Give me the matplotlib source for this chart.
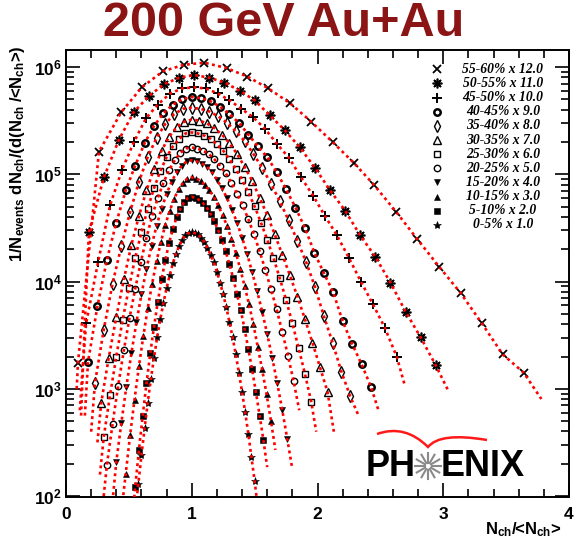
import numpy as np
import matplotlib
matplotlib.use("Agg")
import matplotlib.pyplot as plt
from matplotlib.lines import Line2D
from matplotlib.path import Path
from matplotlib.patches import PathPatch
from matplotlib.ticker import FixedLocator, MultipleLocator, LogLocator, NullFormatter, FuncFormatter

plt.rcParams["font.family"] = ["Liberation Sans", "DejaVu Sans"]
plt.rcParams["mathtext.fontset"] = "custom"
plt.rcParams["mathtext.rm"] = "Liberation Sans:bold"
plt.rcParams["mathtext.it"] = "Liberation Sans:bold"
plt.rcParams["mathtext.bf"] = "Liberation Sans:bold"

# centrality classes and the factor each distribution is scaled by
classes = ["0-5%", "5-10%", "10-15%", "15-20%", "20-25%", "25-30%",
           "30-35%", "35-40%", "40-45%", "45-50%", "50-55%", "55-60%"]
scales = [1.0, 2.0, 3.0, 4.0, 5.0, 6.0, 7.0, 8.0, 9.0, 10.0, 11.0, 12.0]

# measured points: x = Nch/<Nch>, lg = log10(scaled yield)
x_00_05 = [0.575, 0.60, 0.625, 0.65, 0.675, 0.70, 0.725, 0.75, 0.775, 0.80, 0.825, 0.85,
           0.875, 0.90, 0.925, 0.95, 0.975, 1.00, 1.025, 1.05, 1.075, 1.10, 1.125, 1.15,
           1.175, 1.20, 1.225, 1.25, 1.275, 1.30, 1.325, 1.35, 1.375, 1.40, 1.425, 1.45,
           1.475, 1.50]
lg_00_05 = [2.11, 2.38, 2.63, 2.87, 3.09, 3.29, 3.48, 3.65, 3.80, 3.94, 4.06, 4.17,
            4.26, 4.33, 4.39, 4.43, 4.45, 4.46, 4.45, 4.44, 4.41, 4.37, 4.31, 4.25,
            4.18, 4.09, 3.99, 3.88, 3.76, 3.62, 3.48, 3.32, 3.15, 2.97, 2.78, 2.58,
            2.36, 2.14]

x_05_10 = [0.55, 0.58, 0.61, 0.64, 0.67, 0.70, 0.73, 0.76, 0.79, 0.82, 0.85, 0.88, 0.91,
           0.94, 0.97, 1.00, 1.03, 1.06, 1.09, 1.12, 1.15, 1.18, 1.21, 1.24, 1.27, 1.30,
           1.33, 1.36, 1.39, 1.42, 1.45, 1.48, 1.51, 1.54, 1.57]
lg_05_10 = [2.08, 2.43, 2.75, 3.05, 3.33, 3.58, 3.81, 4.02, 4.20, 4.36, 4.49, 4.60, 4.68,
            4.74, 4.78, 4.79, 4.78, 4.76, 4.73, 4.69, 4.63, 4.56, 4.48, 4.39, 4.28, 4.16,
            4.03, 3.88, 3.73, 3.56, 3.37, 3.18, 2.97, 2.75, 2.52]

x_10_15 = [0.475, 0.51, 0.545, 0.58, 0.615, 0.65, 0.685, 0.72, 0.755, 0.79, 0.825, 0.86,
           0.895, 0.93, 0.965, 1.00, 1.035, 1.07, 1.105, 1.14, 1.175, 1.21, 1.245, 1.28,
           1.315, 1.35, 1.385, 1.42, 1.455, 1.49, 1.525, 1.56, 1.595, 1.63]
lg_10_15 = [2.21, 2.57, 2.90, 3.21, 3.49, 3.75, 3.98, 4.19, 4.37, 4.53, 4.66, 4.77,
            4.86, 4.92, 4.96, 4.97, 4.96, 4.94, 4.90, 4.85, 4.79, 4.71, 4.62, 4.52,
            4.40, 4.27, 4.12, 3.96, 3.79, 3.60, 3.39, 3.18, 2.95, 2.70]

x_15_20 = [0.40, 0.44, 0.48, 0.52, 0.56, 0.60, 0.64, 0.68, 0.72, 0.76, 0.80, 0.84, 0.88,
           0.92, 0.96, 1.00, 1.04, 1.08, 1.12, 1.16, 1.20, 1.24, 1.28, 1.32, 1.36, 1.40,
           1.44, 1.48, 1.52, 1.56, 1.60, 1.64, 1.68, 1.72, 1.76]
lg_15_20 = [2.32, 2.68, 3.02, 3.33, 3.62, 3.88, 4.12, 4.33, 4.52, 4.68, 4.82, 4.93, 5.02,
            5.08, 5.12, 5.13, 5.12, 5.10, 5.07, 5.02, 4.95, 4.87, 4.78, 4.67, 4.55, 4.41,
            4.26, 4.09, 3.91, 3.72, 3.51, 3.29, 3.05, 2.80, 2.53]

x_20_25 = [0.325, 0.37, 0.415, 0.46, 0.505, 0.55, 0.595, 0.64, 0.685, 0.73, 0.775, 0.82,
           0.865, 0.91, 0.955, 1.00, 1.045, 1.09, 1.135, 1.18, 1.225, 1.27, 1.315, 1.36,
           1.405, 1.45, 1.495, 1.54, 1.585, 1.63, 1.675, 1.72, 1.765, 1.81]
lg_20_25 = [2.29, 2.67, 3.03, 3.36, 3.66, 3.93, 4.18, 4.41, 4.61, 4.78, 4.92, 5.04,
            5.13, 5.20, 5.24, 5.25, 5.24, 5.22, 5.19, 5.14, 5.08, 5.01, 4.92, 4.82,
            4.71, 4.58, 4.44, 4.28, 4.11, 3.93, 3.74, 3.53, 3.31, 3.07]

x_25_30 = [0.30, 0.35, 0.40, 0.45, 0.50, 0.55, 0.60, 0.65, 0.70, 0.75, 0.80, 0.85, 0.90,
           0.95, 1.00, 1.05, 1.10, 1.15, 1.20, 1.25, 1.30, 1.35, 1.40, 1.45, 1.50, 1.55,
           1.60, 1.65, 1.70, 1.75, 1.80, 1.85, 1.90, 1.95]
lg_25_30 = [2.55, 2.94, 3.30, 3.64, 3.94, 4.22, 4.46, 4.68, 4.87, 5.03, 5.16, 5.26, 5.33,
            5.38, 5.39, 5.38, 5.36, 5.33, 5.28, 5.22, 5.14, 5.05, 4.95, 4.83, 4.70, 4.55,
            4.39, 4.22, 4.03, 3.83, 3.61, 3.38, 3.14, 2.88]

x_30_35 = [0.28, 0.34, 0.40, 0.46, 0.52, 0.58, 0.64, 0.70, 0.76, 0.82, 0.88, 0.94, 1.00,
           1.06, 1.12, 1.18, 1.24, 1.30, 1.36, 1.42, 1.48, 1.54, 1.60, 1.66, 1.72, 1.78,
           1.84, 1.90, 1.96, 2.02, 2.08]
lg_30_35 = [2.87, 3.29, 3.67, 4.02, 4.34, 4.61, 4.85, 5.05, 5.22, 5.35, 5.44, 5.49, 5.51,
            5.50, 5.475, 5.43, 5.37, 5.29, 5.19, 5.07, 4.94, 4.78, 4.62, 4.44, 4.25, 4.06,
            3.86, 3.65, 3.43, 3.20, 2.97]

x_35_40 = [0.23, 0.30, 0.37, 0.44, 0.51, 0.58, 0.65, 0.72, 0.79, 0.86, 0.93, 1.00, 1.07,
           1.14, 1.21, 1.28, 1.35, 1.42, 1.49, 1.56, 1.63, 1.70, 1.77, 1.84, 1.91, 1.98,
           2.05, 2.12, 2.19, 2.26]
lg_35_40 = [3.05, 3.55, 3.98, 4.33, 4.65, 4.93, 5.16, 5.34, 5.47, 5.56, 5.61, 5.62, 5.61,
            5.585, 5.54, 5.48, 5.40, 5.31, 5.19, 5.06, 4.91, 4.75, 4.57, 4.38, 4.18, 3.95,
            3.68, 3.43, 3.16, 2.93]

x_40_45 = [0.175, 0.25, 0.325, 0.40, 0.475, 0.55, 0.625, 0.70, 0.775, 0.85, 0.925, 1.00,
           1.075, 1.15, 1.225, 1.30, 1.375, 1.45, 1.525, 1.60, 1.675, 1.75, 1.825, 1.90,
           1.975, 2.05, 2.125, 2.20, 2.275, 2.35, 2.425]
lg_40_45 = [3.25, 3.77, 4.20, 4.55, 4.85, 5.08, 5.29, 5.45, 5.57, 5.65, 5.70, 5.72,
            5.71, 5.68, 5.63, 5.56, 5.48, 5.37, 5.26, 5.16, 5.02, 4.86, 4.69, 4.50,
            4.27, 4.08, 3.90, 3.63, 3.42, 3.23, 3.02]

x_45_50 = [0.16, 0.255, 0.35, 0.445, 0.54, 0.635, 0.73, 0.825, 0.92, 1.015, 1.11, 1.205,
           1.30, 1.395, 1.49, 1.585, 1.68, 1.775, 1.87, 1.965, 2.06, 2.155, 2.25, 2.345,
           2.44, 2.535, 2.63]
lg_45_50 = [3.61, 4.18, 4.71, 5.04, 5.30, 5.52, 5.65, 5.75, 5.80, 5.81, 5.80, 5.755,
            5.69, 5.61, 5.53, 5.42, 5.28, 5.15, 4.97, 4.80, 4.61, 4.43, 4.22, 4.00,
            3.79, 3.57, 3.30]

x_50_55 = [0.182, 0.301, 0.42, 0.539, 0.66, 0.78, 0.90, 1.02, 1.14, 1.26, 1.38, 1.50,
           1.62, 1.74, 1.86, 1.98, 2.10, 2.22, 2.34, 2.46, 2.58, 2.70, 2.82, 2.94]
lg_50_55 = [4.46, 4.97, 5.32, 5.58, 5.73, 5.84, 5.90, 5.925, 5.90, 5.855, 5.78, 5.69,
            5.55, 5.41, 5.25, 5.06, 4.85, 4.66, 4.43, 4.23, 3.99, 3.72, 3.48, 3.22]

x_55_60 = [0.095, 0.262, 0.44, 0.603, 0.77, 0.936, 1.10, 1.277, 1.443, 1.61, 1.784, 1.95,
           2.12, 2.29, 2.45, 2.625, 2.79, 2.966, 3.14, 3.307, 3.473, 3.64]
lg_55_60 = [3.24, 5.21, 5.58, 5.81, 5.96, 6.02, 6.04, 5.99, 5.91, 5.80, 5.66, 5.49,
            5.30, 5.105, 4.90, 4.65, 4.40, 4.14, 3.89, 3.61, 3.32, 3.15]

# fitted curves continue beyond the outermost measured points
tail_lo_x = [[0.55], [0.525], [0.45], [0.37], [0.30], [0.27], [0.25], [0.20],
             [0.15], [0.13, 0.11], [0.14, 0.12], [0.085]]
tail_lo_lg = [[1.85], [1.75], [1.95], [1.95], [2.00], [2.20], [2.50], [2.60],
              [2.75], [3.15, 2.80], [3.35, 2.75], [3.00]]
tail_hi_x = [[1.525], [1.60], [1.665], [1.80], [1.855], [1.99], [2.13], [2.33],
             [2.49], [2.69], [3.045], [3.78]]
tail_hi_lg = [[1.90], [2.27], [2.43], [2.25], [2.80], [2.60], [2.60], [2.74],
              [2.78], [3.05], [2.97], [2.905]]

xs = [x_00_05, x_05_10, x_10_15, x_15_20, x_20_25, x_25_30,
      x_30_35, x_35_40, x_40_45, x_45_50, x_50_55, x_55_60]
lgs = [lg_00_05, lg_05_10, lg_10_15, lg_15_20, lg_20_25, lg_25_30,
       lg_30_35, lg_35_40, lg_40_45, lg_45_50, lg_50_55, lg_55_60]

# marker style of each class
styles = [
    dict(marker="*", ms=6.0, mfc="k", mec="k", mew=0.4),
    dict(marker="s", ms=4.2, mfc="k", mec="k", mew=0.4),
    dict(marker="^", ms=5.0, mfc="k", mec="k", mew=0.4),
    dict(marker="v", ms=5.0, mfc="k", mec="k", mew=0.4),
    dict(marker="o", ms=4.6, mfc="none", mec="k", mew=1.0),
    dict(marker="s", ms=4.6, mfc="none", mec="k", mew=1.0),
    dict(marker="^", ms=5.2, mfc="none", mec="k", mew=1.0),
    dict(marker="d", ms=5.8, mfc="none", mec="k", mew=1.0),
    dict(marker="o", ms=4.6, mfc="none", mec="k", mew=1.8),
    dict(marker="+", ms=7.0, mfc="k", mec="k", mew=1.4),
    dict(marker=(8, 2, 0), ms=7.0, mfc="k", mec="k", mew=1.2),
    dict(marker="x", ms=5.5, mfc="k", mec="k", mew=1.3),
]

W, H = 575, 541
fig = plt.figure(figsize=(W / 100, H / 100), dpi=100)
ax = fig.add_axes([66 / W, 44 / H, 503 / W, 447 / H])
ax.set_yscale("log")

for i in range(12):
    px = np.array(xs[i])
    py = 10 ** np.array(lgs[i])
    ax.plot(px, py, linestyle="none", zorder=3, **styles[i])
    fx = np.concatenate([tail_lo_x[i][::-1], px, tail_hi_x[i]])
    fy = 10 ** np.concatenate([tail_lo_lg[i][::-1], lgs[i], tail_hi_lg[i]])
    ax.plot(fx, fy, color="#ff0000", lw=1.9, ls=(0, (1.1, 1.3)), zorder=4)

ax.set_xlim(0, 4)
ax.set_ylim(98, 1.44e6)

ax.xaxis.set_major_locator(FixedLocator([0, 1, 2, 3, 4]))
ax.xaxis.set_minor_locator(MultipleLocator(0.2))
ax.yaxis.set_major_locator(LogLocator(base=10, numticks=10))
ax.yaxis.set_minor_locator(LogLocator(base=10, subs=np.arange(2, 10), numticks=20))
ax.yaxis.set_minor_formatter(NullFormatter())
ax.yaxis.set_major_formatter(FuncFormatter(lambda v, p: r"$10^{%d}$" % round(np.log10(v))))
ax.tick_params(which="both", direction="in", top=True, right=True, width=1.2)
ax.tick_params(which="major", length=10, labelsize=12.5)
ax.tick_params(which="minor", length=5.5)
ax.tick_params(axis="x", which="major", pad=7)
ax.tick_params(axis="y", which="major", pad=3)
for lab in ax.get_xticklabels():
    lab.set_fontweight("bold")
for sp in ax.spines.values():
    sp.set_linewidth(1.4)

ax.set_ylabel(r"1/N$_{events}$ dN$_{ch}$/(d(N$_{ch}$ /<N$_{ch}$>)",
              fontsize=12, fontweight="bold", loc="top")
ax.yaxis.set_label_coords(-(66 - 27) / 503, 1.01)
ax.set_xlabel(r"N$_{ch}$/<N$_{ch}$>", fontsize=12, fontweight="bold", loc="right")
ax.xaxis.set_label_coords((561 - 66) / 503, -(530 - 497) / 447)
ax.xaxis.label.set_va("center")

fig.text(284 / W, 1 - 24 / H, "200 GeV Au+Au", ha="center", va="center",
         fontsize=35, fontweight="bold", color="#8b1414")

# legend: one row per class, most peripheral on top
for row, k in enumerate(range(11, -1, -1)):
    yf = 1 - (69.3 + 14.15 * row) / H
    fig.add_artist(Line2D([437 / W], [yf], transform=fig.transFigure,
                          linestyle="none", **styles[k]))
    fig.text(503 / W, yf, f"{classes[k]} x {scales[k]:.1f}", ha="center", va="center",
             fontsize=9.8, family="Liberation Serif", style="italic", fontweight="bold")

# PHENIX logo
cy = 1 - 466 / H
fig.text(416 / W, cy, "PH", ha="right", va="center", fontsize=26, fontweight="bold")
fig.text(441 / W, cy, "ENIX", ha="left", va="center", fontsize=26, fontweight="bold")
for a in np.linspace(0, 2 * np.pi, 12, endpoint=False):
    fig.add_artist(Line2D([(428 + 3.5 * np.cos(a)) / W, (428 + 13 * np.cos(a)) / W],
                          [cy + 3.5 * np.sin(a) / H, cy + 13 * np.sin(a) / H],
                          transform=fig.transFigure, color="#8a8a8a", lw=1.5))


def fpt(px, py):
    return (px / W, 1 - py / H)


wing = Path([fpt(377, 434), fpt(405, 424), fpt(428, 447),
             fpt(440, 432), fpt(487, 440)],
            [Path.MOVETO, Path.CURVE3, Path.CURVE3, Path.CURVE3, Path.CURVE3])
fig.add_artist(PathPatch(wing, transform=fig.transFigure, fill=False,
                         ec="#ff1a1a", lw=1.8))

fig.savefig("out.png", dpi=100)
